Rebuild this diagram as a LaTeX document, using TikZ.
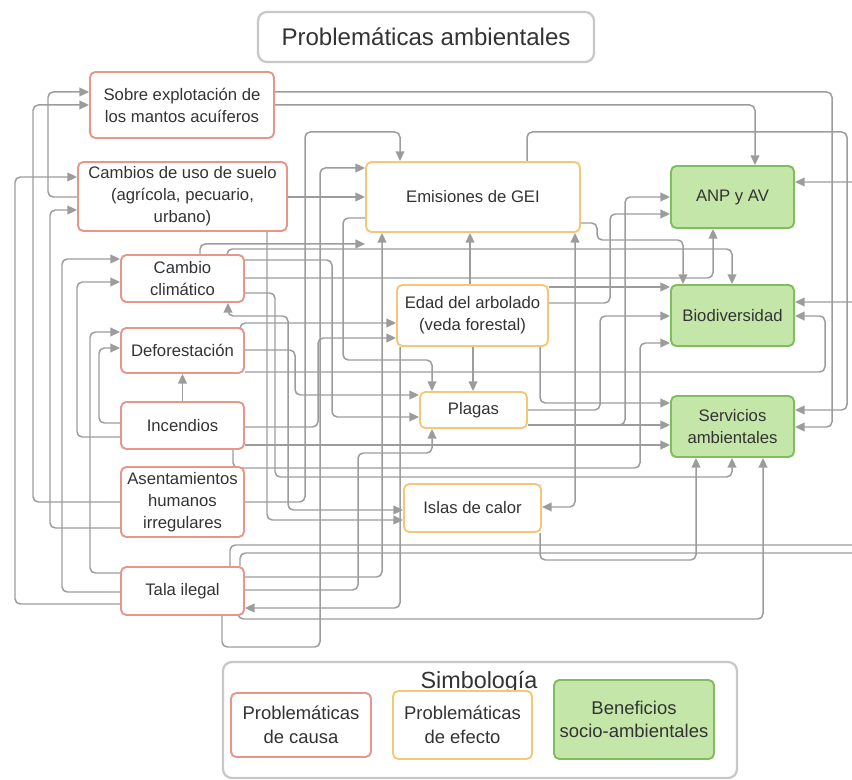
\documentclass[tikz,border=0pt]{standalone}
\usepackage{fontspec}
\setmainfont{Liberation Sans}
\usepackage{xcolor}
\usetikzlibrary{arrows.meta,positioning,backgrounds}

\definecolor{rojo}{HTML}{E8958C}
\definecolor{naranja}{HTML}{F5C878}
\definecolor{verdeb}{HTML}{80BD5C}
\definecolor{verdef}{HTML}{C4E7A9}
\definecolor{gris}{HTML}{9C9C9C}
\definecolor{grisc}{HTML}{C8C8C8}
\definecolor{texto}{HTML}{333333}

\begin{document}
\begin{tikzpicture}[
  x=0.02cm, y=-0.02cm,
  every node/.style = {font=\fontsize{9.5}{12.5}\selectfont, text=texto},
  causa/.style  = {draw=rojo, line width=1.1pt, rounded corners=3pt, fill=white,
                   align=center, inner sep=1pt},
  efecto/.style = {draw=naranja, line width=1.1pt, rounded corners=3pt, fill=white,
                   align=center, inner sep=1pt},
  benef/.style  = {draw=verdeb, line width=1.1pt, rounded corners=3pt, fill=verdef,
                   align=center, inner sep=1pt},
  marco/.style  = {draw=grisc, line width=1.3pt, rounded corners=5pt, fill=white},
  ley/.style    = {font=\fontsize{10.5}{13.5}\selectfont},
  arr/.style    = {-{Triangle[length=5.5pt,width=5pt]}, draw=gris, line width=0.85pt,
                   rounded corners=3pt},
  dos/.style    = {{Triangle[length=5.5pt,width=5pt]}-{Triangle[length=5.5pt,width=5pt]},
                   draw=gris, line width=0.85pt, rounded corners=3pt},
]
\useasboundingbox (0,0) rectangle (852,780);

%% ---------- TITULO ----------
\node[marco, minimum width=6.72cm, minimum height=1.0cm,
      font=\fontsize{13.7}{16}\selectfont] (T) at (426,37) {Problemáticas ambientales};

%% ---------- CAUSAS ----------
\node[causa, minimum width=3.68cm, minimum height=1.32cm] (SE) at (182,105)
  {Sobre explotación de\\los mantos acuíferos};
\node[causa, minimum width=4.18cm, minimum height=1.38cm] (CU) at (182.5,196.5)
  {Cambios de uso de suelo\\(agrícola, pecuario,\\urbano)};
\node[causa, minimum width=2.46cm, minimum height=0.94cm] (CC) at (182.5,278.5)
  {Cambio\\climático};
\node[causa, minimum width=2.46cm, minimum height=0.9cm]  (DF) at (182.5,350.5)
  {Deforestación};
\node[causa, minimum width=2.46cm, minimum height=0.94cm] (IN) at (182.5,425.5)
  {Incendios};
\node[causa, minimum width=2.46cm, minimum height=1.4cm]  (AH) at (182.5,502)
  {Asentamientos\\humanos\\irregulares};
\node[causa, minimum width=2.46cm, minimum height=0.96cm] (TI) at (182.5,591)
  {Tala ilegal};

%% ---------- EFECTOS ----------
\node[efecto, minimum width=4.28cm, minimum height=1.4cm]  (EG) at (473,197)
  {Emisiones de GEI};
\node[efecto, minimum width=3.02cm, minimum height=1.22cm] (EA) at (472.5,315.5)
  {Edad del arbolado\\(veda forestal)};
\node[efecto, minimum width=2.14cm, minimum height=0.72cm] (PL) at (473.5,410)
  {Plagas};
\node[efecto, minimum width=2.74cm, minimum height=0.96cm] (IC) at (472.5,508)
  {Islas de calor};

%% ---------- BENEFICIOS ----------
\node[benef, minimum width=2.46cm, minimum height=1.24cm] (ANP) at (732.5,197)
  {ANP y AV};
\node[benef, minimum width=2.46cm, minimum height=1.22cm] (BD)  at (732.5,315.5)
  {Biodiversidad};
\node[benef, minimum width=2.46cm, minimum height=1.22cm] (SA)  at (732.5,426.5)
  {Servicios\\ambientales};

%% ---------- CONECTORES ----------
\begin{scope}[on background layer]
% hacia la izquierda
\draw[arr] (CU.west |- 0,197) -| (48,92) -- (SE.west |- 0,92);
\draw[arr] (AH.west |- 0,502) -| (33,105) -- (SE.west |- 0,105);
\draw[arr] (TI.west |- 0,604) -| (15,177) -- (CU.west |- 0,177);
\draw[arr] (AH.west |- 0,528) -| (50,210) -- (CU.west |- 0,210);
\draw[arr] (TI.west |- 0,592) -| (62,259) -- (CC.west |- 0,259);
\draw[arr] (IN.west |- 0,437) -| (77,282) -- (CC.west |- 0,282);
\draw[arr] (TI.west |- 0,573) -| (90,332) -- (DF.west |- 0,332);
\draw[arr] (IN.west |- 0,423) -| (99,348) -- (DF.west |- 0,348);
\draw[arr] (IN) -- (DF);

% hacia emisiones
\draw[arr] (CU.east |- 0,197) -- (EG.west |- 0,197);
\draw[arr] (TI.south -| 222,0) |- (320,647) |- (EG.west |- 0,168);
\draw[arr] (AH.east |- 0,502) -| (305,132) -| (EG.north -| 400,0);
\draw[arr] (CC.north -| 200,0) |- ([yshift=-0.22cm]EG.south west);
\draw[arr] (TI.east |- 0,577) -| (EG.south -| 382,0);
\draw[arr] (EA.north -| 470,0) -- (EG.south -| 470,0);
\draw[dos] (EG.south -| 575,0) |- (IC.east |- 0,507);

% desde emisiones
\draw[arr] (EG.west |- 0,218) -| (343,360) -| (PL.north -| 432,0);
\draw[arr] (EG.east |- 0,223) -| (597,240) -| (BD.north -| 683,0);
\draw[arr] (EG.north -| 527,0) |- (847,132) |- (SA.east |- 0,410);

% sobre explotacion
\draw[arr] (SE.east |- 0,92) -| (832,427) -- (SA.east |- 0,427);
\draw[arr] (SE.east |- 0,105) -| (ANP.north -| 755,0);

% tala ilegal por la derecha
\draw[arr] (TI.north -| 230,0) |- (880,545) |- (ANP.east |- 0,182);
\draw[arr] (TI.north -| 240,0) |- (880,553) |- (BD.east |- 0,302);
\draw[arr] (TI.east |- 0,590) -| (358,453) -| (PL.south -| 432,0);
\draw[arr] (TI.south -| 238,0) |- (763,619) -- (SA.south -| 763,0);
\draw[arr] (EA.south -| 400,0) |- (TI.east |- 0,608);

% cambio climatico
\draw[arr] (CC.north -| 227,0) |- (732,249) -- (BD.north -| 732,0);
\draw[arr] (CC.east |- 0,260) -| (332,417) -- (PL.west |- 0,417);
\draw[arr] (CC.east |- 0,278) -| (ANP.south -| 713,0);
\draw[arr] (CC.east |- 0,293) -| (275,477) -| (SA.south -| 732,0);
\draw[dos] (CC.south -| 228,0) |- (288,316) |- (IC.west |- 0,510);
\draw[arr] (CU.south -| 267,0) |- (IC.west |- 0,520);

% deforestacion e incendios
\draw[arr] (DF.north -| 240,0) |- (EA.west |- 0,323);
\draw[arr] (DF.east |- 0,350) -| (295,395) -- (PL.west |- 0,395);
\draw[arr] (DF.east |- 0,372) -| (825,316) -- (BD.east |- 0,316);
\draw[arr] (IN.east |- 0,427) -| (318,338) -- (EA.west |- 0,338);
\draw[arr] (IN.east |- 0,445) -- (SA.west |- 0,445);
\draw[arr] (IN.south -| 233,0) |- (640,468) |- (BD.west |- 0,343);

% edad del arbolado
\draw[arr] (EA.east |- 0,303) -| (610,214) -- (ANP.west |- 0,214);
\draw[arr] (EA.east |- 0,287) -- (BD.west |- 0,287);
\draw[arr] (EA.south -| 540,0) |- (SA.west |- 0,403);
\draw[arr] (EA.south -| 473,0) -- (PL.north -| 473,0);

% plagas e islas
\draw[arr] (PL.east |- 0,410) -| (600,316) -- (BD.west |- 0,316);
\draw[arr] (PL.east |- 0,425) -| (625,197) -- (ANP.west |- 0,197);
\draw[arr] (PL.east |- 0,425) -- (SA.west |- 0,425);
\draw[arr] (IC.south -| 540,0) |- (696,560) -- (SA.south -| 696,0);
\end{scope}

%% ---------- SIMBOLOGIA ----------
\node[marco, minimum width=10.28cm, minimum height=2.32cm] (LG) at (480,720) {};
\node[font=\fontsize{13.3}{15}\selectfont] (LT) at (479,682) {Simbología};
\node[causa, ley, minimum width=2.8cm, minimum height=1.28cm]   (LC) at (301,725)
  {Problemáticas\\de causa};
\node[efecto, ley, minimum width=2.78cm, minimum height=1.36cm] (LE) at (462.5,725)
  {Problemáticas\\de efecto};
\node[benef, ley, minimum width=3.2cm, minimum height=1.58cm]   (LB) at (634,719.5)
  {Beneficios\\socio-ambientales};

\end{tikzpicture}
\end{document}
